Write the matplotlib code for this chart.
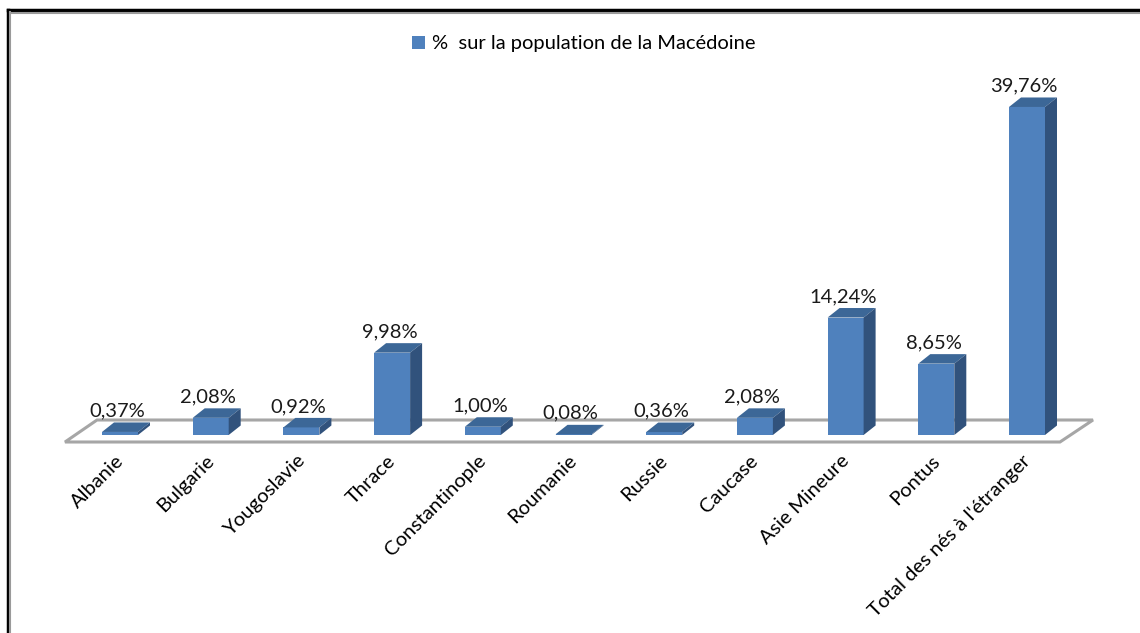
import matplotlib.pyplot as plt
from matplotlib.patches import Polygon, Rectangle
from matplotlib.lines import Line2D

categories = ["Albanie", "Bulgarie", "Yougoslavie", "Thrace", "Constantinople",
              "Roumanie", "Russie", "Caucase", "Asie Mineure", "Pontus",
              "Total des nés à l'étranger"]
values = [0.37, 2.08, 0.92, 9.98, 1.00, 0.08, 0.36, 2.08, 14.24, 8.65, 39.76]
value_labels = ["0,37%", "2,08%", "0,92%", "9,98%", "1,00%", "0,08%",
                "0,36%", "2,08%", "14,24%", "8,65%", "39,76%"]
series_name = "%  sur la population de la Macédoine"

W, H = 1140, 633
FRONT = "#4F81BD"
TOP = "#3C6797"
SIDE = "#31527C"
FONT = ["Lato", "DejaVu Sans"]

# pixel layout of the category axis and value axis
X0, DX = 120.0, 90.7     # centre of first bar, spacing between bars
Y0, KY = 435.0, 8.25     # baseline, pixels per percent

fig = plt.figure(figsize=(W / 100, H / 100), dpi=100)
ax = fig.add_axes([0, 0, 1, 1])
ax.set_xlim(-X0 / DX, (W - X0) / DX)
ax.set_ylim((Y0 - H) / KY, Y0 / KY)
ax.axis("off")


def px(x, y):
    return (x - X0) / DX, (Y0 - y) / KY


# floor of the 3D plot
floor = [px(65, 442), px(1060, 442), px(1093, 420), px(97, 420)]
ax.add_patch(Polygon(floor, closed=True, facecolor="white",
                     edgecolor="#A6A6A6", lw=2.2, zorder=1))

w = 36 / DX
dx = 12 / DX
dy = 9.5 / KY
xs = list(range(len(categories)))

ax.bar(xs, values, width=w, color=FRONT, zorder=3, linewidth=0)
for x, v in zip(xs, values):
    l, r = x - w / 2, x + w / 2
    ax.add_patch(Polygon([(l, v), (r, v), (r + dx, v + dy), (l + dx, v + dy)],
                         closed=True, facecolor=TOP, edgecolor="none", zorder=3))
    ax.add_patch(Polygon([(r, 0), (r + dx, dy), (r + dx, v + dy), (r, v)],
                         closed=True, facecolor=SIDE, edgecolor="none", zorder=3))

for x, v, lab in zip(xs, values, value_labels):
    ax.text(x - 0.03, v + dy + 3 / KY, lab, ha="center", va="bottom",
            fontsize=14.5, family=FONT, color="#1a1a1a", zorder=4)

_, ty = px(0, 452)
for x, cat in zip(xs, categories):
    ax.text(x - 0.06, ty, cat, rotation=45, rotation_mode="anchor",
            ha="right", va="top", fontsize=14.5, family=FONT, color="black")

# legend
fig.patches.append(Rectangle((412 / W, 1 - 49 / H), 13 / W, 13 / H,
                             transform=fig.transFigure, facecolor=FRONT,
                             edgecolor="none"))
fig.text(432 / W, 1 - 43 / H, series_name, ha="left", va="center",
         fontsize=14.5, family=FONT, color="black")

# chart frame
for (x1, y1), (x2, y2), c, lw in [((8, 10), (W, 10), "black", 2.5),
                                  ((8, 10), (8, H), "black", 2.5),
                                  ((10, 12.5), (W, 12.5), "#9a9a9a", 1.5),
                                  ((10.5, 12), (10.5, H), "#9a9a9a", 1.5)]:
    fig.lines.append(Line2D([x1 / W, x2 / W], [1 - y1 / H, 1 - y2 / H],
                            transform=fig.transFigure, color=c, lw=lw))

fig.savefig("out.png", dpi=100)
